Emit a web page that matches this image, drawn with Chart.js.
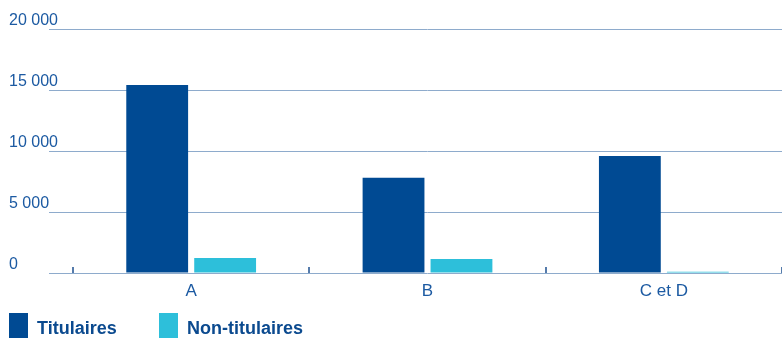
<!DOCTYPE html>
<html>
<head>
<meta charset="utf-8">
<script src="https://cdn.jsdelivr.net/npm/chart.js@4"></script>
<style>
  body { margin: 0; background: #fff; }
  #wrap { position: relative; width: 782px; height: 338px; }
  #legend { position: absolute; left: 9px; top: 313px; font: bold 18px 'Liberation Sans', Arial, sans-serif; color: #0b4a8f; }
  .item { position: absolute; top: 0; white-space: nowrap; }
  .box { display: inline-block; width: 19px; height: 25px; vertical-align: top; }
  .lbl { position: absolute; left: 28px; top: 5px; }
</style>
</head>
<body>
<div id="wrap">
  <canvas id="chart" width="782" height="338"></canvas>
  <div id="legend"></div>
</div>
<script>
// Chart data
const categories = ['A', 'B', 'C et D'];
const titulaires = [15400, 7800, 9600];
const nonTitulaires = [1230, 1150, 100];
const yTicks = [0, 5000, 10000, 15000, 20000];

const seriesNames = ['Titulaires', 'Non-titulaires'];
const seriesColors = ['#004a93', '#2dbfda'];
const textColor = '#1c5aa2';
const gridColor = '#8eabcc';
const fontFamily = "'Liberation Sans', Arial, sans-serif";

// small upward ticks at category boundaries
const boundaryTicks = {
    id: 'boundaryTicks',
    afterDraw(chart) {
        const x = chart.scales.x;
        const y0 = chart.scales.y.getPixelForValue(0);
        const half = (x.getPixelForValue(1) - x.getPixelForValue(0)) / 2;
        const ctx = chart.ctx;
        ctx.save();
        ctx.strokeStyle = '#1c4f8f';
        ctx.lineWidth = 1.5;
        for (let i = 0; i <= categories.length; i++) {
            const px = Math.round(x.getPixelForValue(i) - half);
            ctx.beginPath();
            ctx.moveTo(px, y0);
            ctx.lineTo(px, y0 - 6);
            ctx.stroke();
        }
        ctx.restore();
    }
};

const ctx = document.getElementById('chart').getContext('2d');
new Chart(ctx, {
    type: 'bar',
    data: {
        labels: categories,
        datasets: [
            { label: seriesNames[0], data: titulaires, backgroundColor: seriesColors[0] },
            { label: seriesNames[1], data: nonTitulaires, backgroundColor: seriesColors[1] }
        ]
    },
    options: {
        responsive: false,
        animation: false,
        layout: { padding: { left: 9, top: 29, right: 0, bottom: 0 } },
        datasets: { bar: { categoryPercentage: 0.575, barPercentage: 0.91 } },
        plugins: { legend: { display: false }, tooltip: { enabled: false } },
        scales: {
            y: {
                min: 0,
                max: 20000,
                afterBuildTicks: s => { s.ticks = yTicks.map(v => ({ value: v })); },
                afterFit: s => { s.width = 64; },
                border: { display: false },
                grid: { color: gridColor, lineWidth: 1, tickLength: 24 },
                ticks: {
                    crossAlign: 'far',
                    labelOffset: -8,
                    color: textColor,
                    font: { family: fontFamily, size: 16 },
                    callback: v => v === 0 ? '0' : String(v).replace(/\B(?=(\d{3})+(?!\d))/g, ' ')
                }
            },
            x: {
                afterFit: s => { s.height = 65; },
                border: { display: false },
                grid: { display: false, drawTicks: false, tickLength: 0 },
                ticks: {
                    padding: 8,
                    color: textColor,
                    font: { family: fontFamily, size: 17 }
                }
            }
        }
    },
    plugins: [boundaryTicks]
});

// legend
const legend = document.getElementById('legend');
const legendLeft = [0, 150];
seriesNames.forEach((name, i) => {
    const item = document.createElement('div');
    item.className = 'item';
    item.style.left = legendLeft[i] + 'px';
    item.innerHTML = '<span class="box" style="background:' + seriesColors[i] + '"></span><span class="lbl">' + name + '</span>';
    legend.appendChild(item);
});
</script>
</body>
</html>
